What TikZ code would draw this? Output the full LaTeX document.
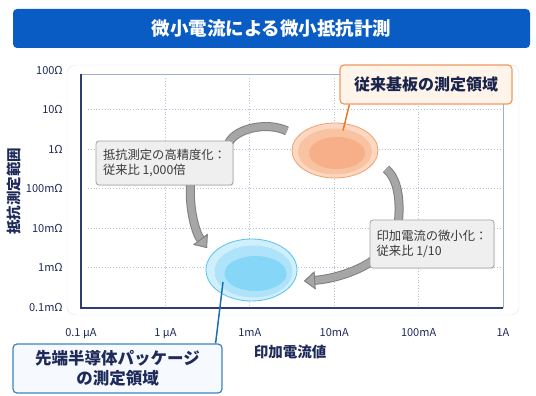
\documentclass[tikz,border=0pt]{standalone}
\usepackage{fontspec}
\setmainfont{Noto Sans CJK JP}
\usetikzlibrary{shapes.geometric,arrows.meta,shadows}
\pgfdeclarelayer{back}\pgfdeclarelayer{mid}\pgfsetlayers{back,mid,main}
\definecolor{titleblue}{HTML}{0A5CC5}
\definecolor{navy}{HTML}{1E2A5A}
\definecolor{axisnavy}{HTML}{2E3D6E}
\definecolor{framelight}{HTML}{9EAED0}
\definecolor{gridc}{HTML}{B3C0D6}
\definecolor{orangeedge}{HTML}{F2A06C}
\definecolor{orangeout}{HTML}{FCD8C2}
\definecolor{orangemid}{HTML}{F9C3A2}
\definecolor{orangein}{HTML}{F6AF88}
\definecolor{orangeline}{HTML}{E8782A}
\definecolor{orangebox}{HTML}{FFF4EA}
\definecolor{blueedge}{HTML}{55C3EE}
\definecolor{blueout}{HTML}{CFEFFC}
\definecolor{bluemid}{HTML}{AEE3F9}
\definecolor{bluein}{HTML}{86D6F7}
\definecolor{blueline}{HTML}{1C6DB6}
\definecolor{bluebox}{HTML}{F6FAFE}
\definecolor{notefill}{HTML}{EFEFEF}
\definecolor{noteedge}{HTML}{A3A3A3}
\definecolor{notetext}{HTML}{3A3A3A}
\definecolor{bandfill}{HTML}{A6A6A6}
\definecolor{bandedge}{HTML}{7F7F7F}
\tikzset{
  ytick/.style={anchor=east,inner sep=0pt,text=navy,font=\fontsize{11}{13}\selectfont},
  xtick/.style={anchor=base,inner sep=0pt,text=navy,font=\fontsize{11}{13}\selectfont},
  axtitle/.style={inner sep=0pt,text=navy,font=\bfseries\fontsize{14.5}{17}\selectfont},
  grid/.style={draw=gridc,line width=0.8pt,dotted},
  note/.style={draw=noteedge,fill=notefill,line width=0.8pt,rounded corners=3pt,align=left,text=notetext,
    font=\fontsize{12.3}{15}\selectfont,inner sep=0pt,drop shadow={opacity=.15,shadow xshift=1pt,shadow yshift=-1.2pt}},
  bandout/.style={line width=9pt,draw=bandedge},
  bandin/.style={line width=7pt,draw=bandfill},
  bandtip/.style={-{Triangle[length=11pt,width=18pt,line width=0.8pt,color=bandedge,fill=bandfill]}}
}
\begin{document}
\begin{tikzpicture}[x=1pt,y=-1pt]
\useasboundingbox (0,0) rectangle (536,396);
% title bar
\node[fill=titleblue,rounded corners=4pt,minimum width=517pt,minimum height=39pt,text=white,font=\bfseries\fontsize{18.5}{22}\selectfont] (title) at (271.5,28.5) {微小電流による微小抵抗計測};
% chart panel, grid and frame
\begin{pgfonlayer}{back}
\draw[black!10,fill=white,rounded corners=8pt] (67,65) rectangle (519,315);
\foreach \i in {1,...,5}{\draw[grid] (88,{307-39.5*\i}) -- (500,{307-39.5*\i});}
\foreach \i in {1,...,4}{\draw[grid] ({81+84.4*\i},78) -- ({81+84.4*\i},305);}
\draw[framelight,line width=0.8pt] (81,74) -- (503,74) -- (503,308);
\draw[axisnavy,line width=1.6pt] (81,74) -- (81,308) -- (503,308);
\end{pgfonlayer}
\foreach \i/\t in {0/0.1mΩ,1/1mΩ,2/10mΩ,3/100mΩ,4/1Ω,5/10Ω,6/100Ω}{\node[ytick] (r\i) at (63,{307-39.5*\i}) {\t};}
\foreach \i/\t in {0/0.1 µA,1/1 µA,2/1mA,3/10mA,4/100mA,5/1A}{\node[xtick] (c\i) at ({81+84.4*\i},336) {\t};}
\node[axtitle] (xtitle) at (290,352) {印加電流値};
\node[axtitle,rotate=90] (ytitle) at (14,191) {抵抗測定範囲};
% measurement regions
\node[ellipse,draw=orangeedge,line width=0.8pt,fill=orangeout,minimum width=86pt,minimum height=55pt,inner sep=0pt,
  path picture={\fill[orangemid] ([yshift=-1pt]path picture bounding box.center) ellipse (37pt and 23pt);
    \fill[orangein] ([shift={(2pt,-2.5pt)}]path picture bounding box.center) ellipse (28pt and 16pt);}] (conv) at (335,150.5) {};
\node[ellipse,draw=blueedge,line width=0.8pt,fill=blueout,minimum width=91pt,minimum height=62pt,inner sep=0pt,
  path picture={\fill[bluemid] ([shift={(2pt,-1.5pt)}]path picture bounding box.center) ellipse (39pt and 26pt);
    \fill[bluein] ([shift={(4pt,-3.5pt)}]path picture bounding box.center) ellipse (31pt and 17.5pt);}] (adv) at (251.5,270) {};
% callouts
\node[draw=orangeedge!80!orangeline,fill=orangebox,line width=1.2pt,rounded corners=4pt,minimum width=172pt,minimum height=39pt,
  text=navy!85!black,font=\bfseries\fontsize{16}{19}\selectfont] (convlab) at (426,84.5) {従来基板の測定領域};
\node[draw=blueline!85!white,fill=bluebox,line width=1.2pt,rounded corners=4pt,minimum width=209pt,minimum height=49pt,align=center,
  text=navy,font=\bfseries\fontsize{16.5}{20}\selectfont] (advlab) at (117.5,368.5) {先端半導体パッケージ\\の測定領域};
\draw[orangeline,line width=1.5pt] ([xshift=10pt]convlab.south west) -- ([shift={(8,-20)}]conv.center);
\draw[blueline,line width=1.5pt] ([xshift=-7pt]advlab.north east) -- ([shift={(-28.5,12)}]adv.center);
% notes
\node[note,minimum width=137pt,minimum height=44pt] (hi) at (164.5,163) {抵抗測定の高精度化：\\従来比 1,000倍};
\node[note,minimum width=124pt,minimum height=48pt] (low) at (432,244) {印加電流の微小化：\\従来比 1/10};
% gray arrows
\begin{pgfonlayer}{mid}
\foreach \s in {bandout,bandin}{
  \draw[\s] ([shift={(-6,6)}]hi.north east) .. controls +(4,-18) and +(-20,-10) .. ([shift={(-48,-19.5)}]conv.center);
  \draw[\s,bandtip] ([shift={(26.5,-6)}]hi.south) .. controls +(-3,25) and +(-12,-16) .. ([shift={(-44.5,-22)}]adv.center);
  \draw[\s] ([shift={(51,18.5)}]conv.center) .. controls +(12,10) and +(3,-25) .. ([shift={(-34,6)}]low.north);
  \draw[\s,bandtip] ([shift={(6,-10)}]low.south west) .. controls +(-15,12) and +(30,-2) .. ([shift={(52.5,11)}]adv.center);
}
\end{pgfonlayer}
\end{tikzpicture}
\end{document}
